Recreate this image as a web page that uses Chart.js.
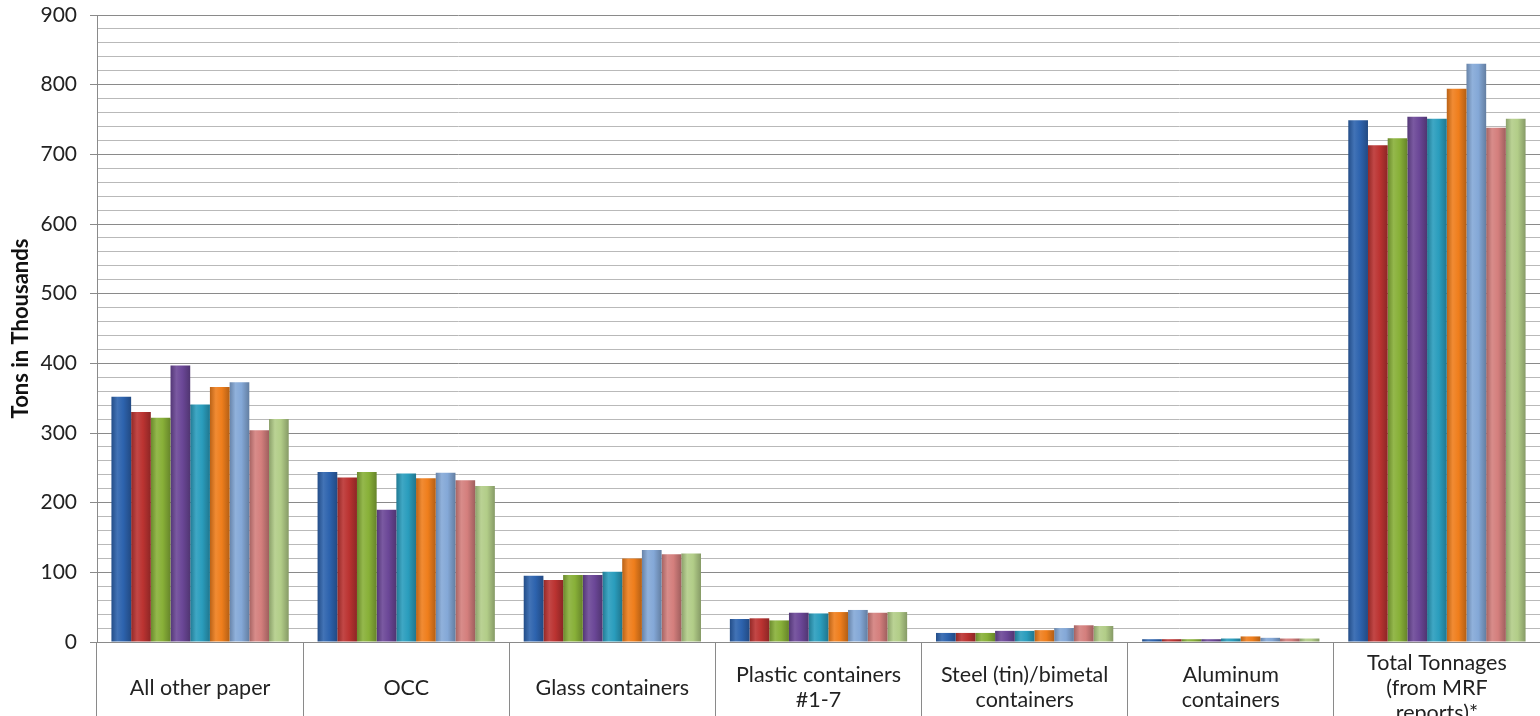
<!DOCTYPE html>
<html>
<head>
<meta charset="utf-8">
<title>Tons in Thousands</title>
<script src="https://cdn.jsdelivr.net/npm/chart.js@4.4.1/dist/chart.umd.min.js"></script>
<style>
  html, body { margin: 0; padding: 0; overflow: hidden; background: #fff; }
  #wrap { width: 1540px; height: 725px; }
</style>
</head>
<body>
<div id="wrap"><canvas id="tonsChart"></canvas></div>
<script>
// categories along the bottom (multi-line ones as arrays)
var categories = [
  'All other paper',
  'OCC',
  'Glass containers',
  ['Plastic containers', '#1-7'],
  ['Steel (tin)/bimetal', 'containers'],
  ['Aluminum', 'containers'],
  ['Total Tonnages', '(from MRF', 'reports)*']
]

// nine series, one value per category (thousand tons)
var series1 = [352, 244, 95, 33, 13, 4, 749]
var series2 = [330, 236, 89, 34, 13, 4, 713]
var series3 = [322, 244, 96, 31, 13, 4, 723]
var series4 = [397, 190, 96, 42, 16, 4, 754]
var series5 = [341, 242, 101, 41, 16, 5, 751]
var series6 = [366, 235, 120, 43, 17, 8, 794]
var series7 = [373, 243, 132, 46, 20, 6, 830]
var series8 = [304, 232, 126, 42, 24, 5, 738]
var series9 = [320, 224, 127, 43, 23, 5, 751]

var seriesNames = ['Series 1', 'Series 2', 'Series 3', 'Series 4', 'Series 5',
  'Series 6', 'Series 7', 'Series 8', 'Series 9']
var seriesValues = [series1, series2, series3, series4, series5, series6, series7, series8, series9]
var seriesColors = ['#2d63ae', '#bb3331', '#88b038', '#6b4797', '#2a9dbd',
  '#ef7e1c', '#84a8d7', '#d47f7d', '#b2cd88']

var yTicks = [0, 100, 200, 300, 400, 500, 600, 700, 800, 900]

var CAT_PCT = 0.86

function mix(hex, amt) {
  // amt > 0 lightens towards white, amt < 0 darkens towards black
  var n = parseInt(hex.slice(1), 16)
  var r = n >> 16, g = (n >> 8) & 255, b = n & 255
  var t = amt > 0 ? 255 : 0, p = Math.abs(amt)
  r = Math.round(r + (t - r) * p)
  g = Math.round(g + (t - g) * p)
  b = Math.round(b + (t - b) * p)
  return 'rgb(' + r + ',' + g + ',' + b + ')'
}

// cylinder-ish shading across each bar
function barFill(ctx) {
  var base = seriesColors[ctx.datasetIndex]
  var chart = ctx.chart
  var xs = chart.scales.x
  if (ctx.type !== 'data' || !xs || !chart.chartArea) return base
  var catW = xs.width / categories.length
  var groupW = catW * CAT_PCT
  var barW = groupW / seriesValues.length
  var left = xs.getPixelForValue(ctx.dataIndex) - groupW / 2 + ctx.datasetIndex * barW
  var g = chart.ctx.createLinearGradient(left, 0, left + barW, 0)
  g.addColorStop(0, mix(base, -0.22))
  g.addColorStop(0.3, mix(base, 0.1))
  g.addColorStop(0.6, base)
  g.addColorStop(1, mix(base, -0.25))
  return g
}

var datasets = seriesValues.map(function (vals, i) {
  return {
    label: seriesNames[i],
    data: vals,
    backgroundColor: barFill,
    borderWidth: 0,
    barPercentage: 1.0,
    categoryPercentage: CAT_PCT
  }
})

var majorLine = '#8a8a8a'
var minorLine = '#b9b9b9'

new Chart(document.getElementById('tonsChart').getContext('2d'), {
  type: 'bar',
  data: {
    labels: categories,
    datasets: datasets
  },
  options: {
    responsive: true,
    maintainAspectRatio: false,
    animation: false,
    layout: { padding: { top: 0, left: 0, right: 0, bottom: 0 } },
    plugins: {
      legend: { display: false },
      tooltip: { enabled: false }
    },
    scales: {
      x: {
        offset: true,
        afterFit: function (scale) { scale.height = 83 },
        grid: {
          offset: true,
          drawOnChartArea: false,
          drawTicks: true,
          tickLength: 80,
          color: '#8a8a8a',
          tickColor: '#8a8a8a'
        },
        border: { display: true, color: '#8a8a8a' },
        ticks: {
          padding: -59,
          maxRotation: 0,
          autoSkip: false,
          crossAlign: 'center',
          color: '#222',
          font: { family: 'Lato', size: 21.5, lineHeight: '25px' }
        }
      },
      y: {
        min: yTicks[0],
        max: yTicks[yTicks.length - 1],
        afterFit: function (scale) {
          scale.width = 97
          scale.paddingTop = 15
        },
        grid: {
          color: function (c) { return c.tick && c.tick.value % 100 === 0 ? majorLine : minorLine },
          tickColor: function (c) { return c.tick && c.tick.value % 100 === 0 ? majorLine : 'rgba(0,0,0,0)' },
          tickLength: 7,
          lineWidth: 1
        },
        border: { display: true, color: '#8a8a8a' },
        ticks: {
          stepSize: 20,
          autoSkip: false,
          padding: 13,
          color: '#222',
          font: { family: 'Lato', size: 21 },
          callback: function (v) { return yTicks.indexOf(v) >= 0 ? v : '' }
        },
        title: {
          display: true,
          text: 'Tons in Thousands',
          color: '#111',
          padding: { top: 8, bottom: 0 },
          font: { family: 'Lato', size: 22, weight: 'bold' }
        }
      }
    }
  }
})
</script>
</body>
</html>
